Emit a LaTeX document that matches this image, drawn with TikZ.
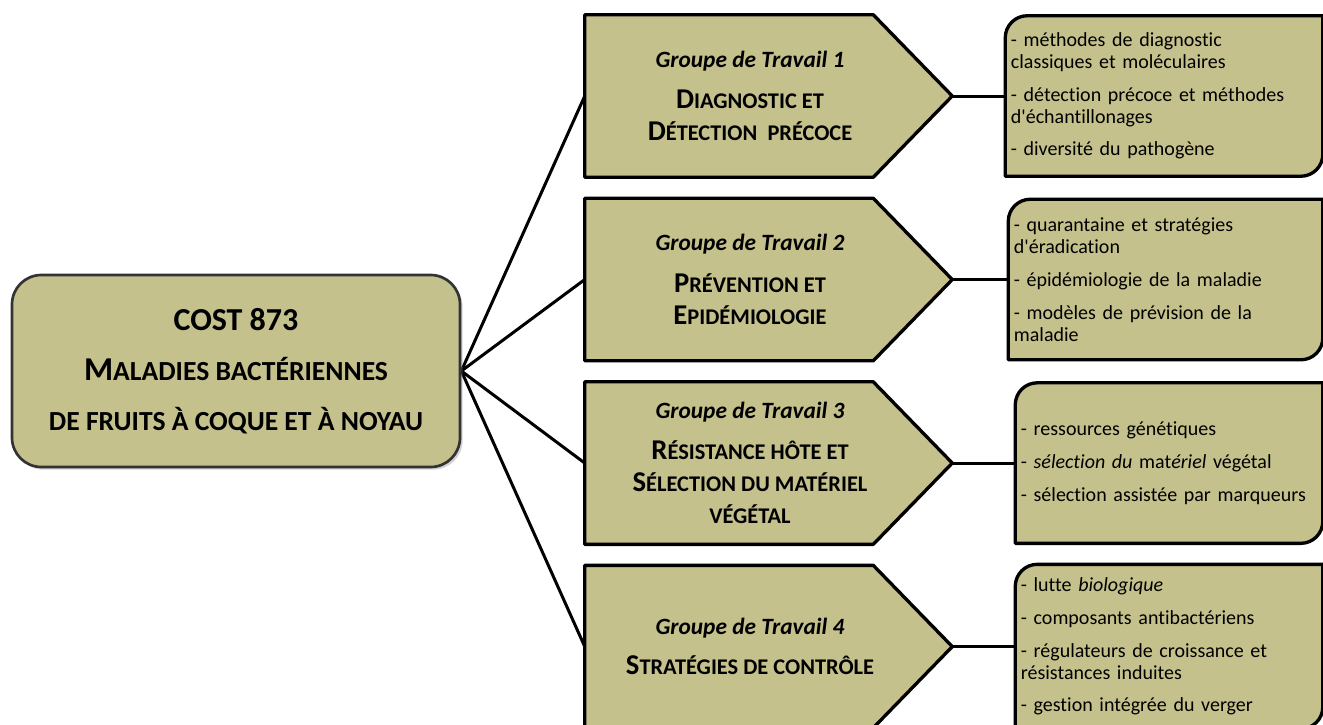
\documentclass[tikz,border=0pt]{standalone}
\usepackage{fontspec}
\setmainfont{Carlito}[Ligatures={TeX,NoCommon}]
\usetikzlibrary{positioning,backgrounds,shadows,calc}
\definecolor{kaki}{RGB}{196,193,140}

% petites capitales a la main
\newcommand\maj[1]{{\fontsize{21.5}{24}\selectfont #1}}
\newcommand\Maj[1]{{\fontsize{25}{37.5}\selectfont #1}}
\newcommand\gtitre[1]{{\fontsize{17.5}{24}\selectfont\bfseries\itshape Groupe de Travail #1}}

\begin{document}
\begin{tikzpicture}[
  cost/.style={draw=black!80, line width=2pt, fill=kaki, rounded corners=22pt,
               minimum width=336pt, minimum height=144pt, align=center,
               font=\fontsize{20.7}{37.5}\selectfont\bfseries,
               drop shadow={opacity=0.35, shadow xshift=2pt, shadow yshift=-2pt}},
  wg/.style={minimum width=247.5pt, minimum height=121.5pt, inner sep=0pt,
             align=center, font=\fontsize{16.8}{24}\selectfont\bfseries},
  taches/.style={minimum height=120pt, inner xsep=4pt, inner ysep=0pt,
                 align=left, font=\fontsize{15}{16.5}\selectfont},
  forme/.style={draw=black, line width=2.5pt, fill=kaki, line join=round},
  lien/.style={draw=black, line width=2.25pt},
  node distance=15.75pt
]
\useasboundingbox (0,0) rectangle (992.25pt,-543pt);

\node[cost] (cost) at (177pt,-278.25pt)
  {{\fontsize{24}{37.5}\selectfont COST 873}\\
   \Maj{M}ALADIES BACTÉRIENNES\\
   DE FRUITS À COQUE ET À NOYAU};

\node[wg] (wg1) at (562.5pt,-72pt)
  {\gtitre{1}\\[7pt] \maj{D}IAGNOSTIC ET\\ \maj{D}ÉTECTION\ \ PRÉCOCE};
\node[wg] (wg2) [below=of wg1]
  {\gtitre{2}\\[7pt] \maj{P}RÉVENTION ET\\ \maj{E}PIDÉMIOLOGIE};
\node[wg] (wg3) [below=of wg2]
  {\gtitre{3}\\[7pt] \maj{R}ÉSISTANCE HÔTE ET\\ \maj{S}ÉLECTION DU MATÉRIEL\\ VÉGÉTAL};
\node[wg] (wg4) [below=of wg3]
  {\gtitre{4}\\[6pt] \maj{S}TRATÉGIES DE CONTRÔLE};

\foreach \i in {1,...,4}
  \coordinate (tip\i) at ([xshift=27.75pt]wg\i.east);

\node[taches, text width=229.75pt] (taches1) [right=39.75pt of tip1]
  {- méthodes de diagnostic\\ classiques et moléculaires\\[8pt]
   - détection précoce et méthodes\\ d\textquotesingle échantillonages\\[8pt]
   - diversité du pathogène};
\node[taches, text width=227.5pt] (taches2) [right=42pt of tip2]
  {- quarantaine et stratégies\\ d\textquotesingle éradication\\[8pt]
   - épidémiologie de la maladie\\[8pt]
   - modèles de prévision de la\\ maladie};
\node[taches, text width=222.25pt] (taches3) [right=47.25pt of tip3]
  {- ressources génétiques\\[8pt]
   - \textit{sélection du} mat\textit{ériel} végétal\\[8pt]
   - sélection assistée par marqueurs};
\node[taches, text width=222.25pt, minimum height=123pt] (taches4) [right=47.25pt of tip4]
  {- lutte \textit{biologique}\\[8pt]
   - composants antibactériens\\[8pt]
   - régulateurs de croissance et\\ résistances induites\\[8pt]
   - gestion intégrée du verger};

\begin{scope}[on background layer]
\foreach \i in {1,...,4} {
  \draw[lien] (cost.east) -- (wg\i.west);
  \draw[lien] (tip\i) -- (taches\i.west);
  \draw[forme] (wg\i.north west) -- ([xshift=-31.5pt]wg\i.north east) -- (tip\i)
    -- ([xshift=-31.5pt]wg\i.south east) -- (wg\i.south west) -- cycle;
  \draw[forme] (taches\i.south west) -- ([yshift=-16.5pt]taches\i.north west)
    arc[start angle=180, end angle=90, radius=16.5pt] -- (taches\i.north east)
    -- ([yshift=16.5pt]taches\i.south east)
    arc[start angle=0, end angle=-90, radius=16.5pt] -- cycle;
}
\end{scope}
\end{tikzpicture}
\end{document}
